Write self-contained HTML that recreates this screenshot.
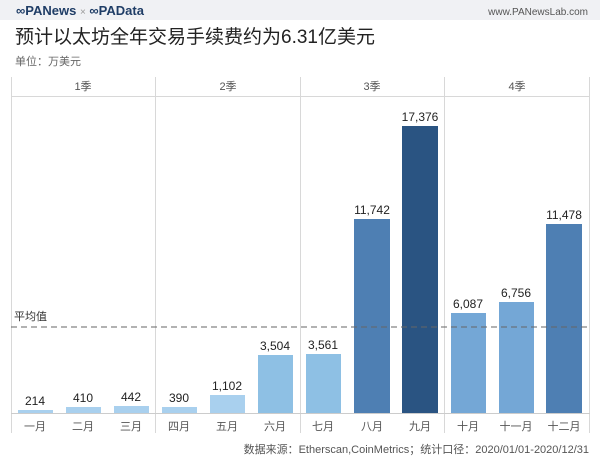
<!DOCTYPE html>
<html><head><meta charset="utf-8"><style>
body{margin:0;width:600px;height:470px;background:#fff;overflow:hidden;font-family:"Liberation Sans","Noto Sans CJK SC",sans-serif;}
</style></head><body>
<svg width="600" height="470" xmlns="http://www.w3.org/2000/svg" font-family="Liberation Sans, Noto Sans CJK SC, sans-serif">
<rect x="0" y="0" width="600" height="20" fill="#f0f1f4"/>
<text x="16" y="15" font-size="13" font-weight="bold" fill="#1f3d66">∞PANews <tspan fill="#999" font-weight="normal" font-size="10">×</tspan> ∞PAData</text>
<text x="588" y="15" font-size="10" fill="#555" text-anchor="end">www.PANewsLab.com</text>
<text x="15" y="43" font-size="19" fill="#222">预计以太坊全年交易手续费约为6.31亿美元</text>
<text x="15" y="65" font-size="11" fill="#666">单位：万美元</text>
<g stroke="#d8d8d8" stroke-width="1">
<line x1="11.5" y1="77" x2="11.5" y2="433"/>
<line x1="155.5" y1="77" x2="155.5" y2="433"/>
<line x1="300.5" y1="77" x2="300.5" y2="433"/>
<line x1="444.5" y1="77" x2="444.5" y2="433"/>
<line x1="589.5" y1="77" x2="589.5" y2="433"/>
<line x1="11" y1="96.5" x2="590" y2="96.5"/>
<line x1="11" y1="413.5" x2="590" y2="413.5" stroke="#ccc"/>
</g>
<g font-size="11" fill="#555" text-anchor="middle">
<text x="83" y="90">1季</text><text x="228" y="90">2季</text><text x="372" y="90">3季</text><text x="517" y="90">4季</text>
</g>
<g>
<rect x="18" y="410" width="35" height="3" fill="#a9d0ee"/>
<rect x="66" y="407" width="35" height="6" fill="#a9d0ee"/>
<rect x="114" y="406" width="35" height="7" fill="#a9d0ee"/>
<rect x="162" y="407" width="35" height="6" fill="#a9d0ee"/>
<rect x="210" y="395" width="35" height="18" fill="#a9d0ee"/>
<rect x="258" y="355" width="35" height="58" fill="#8ec0e4"/>
<rect x="306" y="354" width="35" height="59" fill="#8ec0e4"/>
<rect x="354" y="219" width="36" height="194" fill="#4e7fb3"/>
<rect x="402" y="126" width="36" height="287" fill="#2a5482"/>
<rect x="451" y="313" width="35" height="100" fill="#74a7d6"/>
<rect x="499" y="302" width="35" height="111" fill="#74a7d6"/>
<rect x="546" y="224" width="36" height="189" fill="#4e7fb3"/>
</g>
<line x1="11" y1="327" x2="590" y2="327" stroke="#666" stroke-width="1" stroke-dasharray="6,4"/>
<text x="14" y="320" font-size="11" fill="#333">平均值</text>
<g font-size="12" fill="#222" text-anchor="middle">
<text x="35" y="405">214</text><text x="83" y="402">410</text><text x="131" y="401">442</text>
<text x="179" y="402">390</text><text x="227" y="390">1,102</text><text x="275" y="350">3,504</text>
<text x="323" y="349">3,561</text><text x="372" y="214">11,742</text><text x="420" y="121">17,376</text>
<text x="468" y="308">6,087</text><text x="516" y="297">6,756</text><text x="564" y="219">11,478</text>
</g>
<g font-size="11" fill="#555" text-anchor="middle">
<text x="35" y="430">一月</text><text x="83" y="430">二月</text><text x="131" y="430">三月</text>
<text x="179" y="430">四月</text><text x="227" y="430">五月</text><text x="275" y="430">六月</text>
<text x="323" y="430">七月</text><text x="372" y="430">八月</text><text x="420" y="430">九月</text>
<text x="468" y="430">十月</text><text x="516" y="430">十一月</text><text x="564" y="430">十二月</text>
</g>
<text x="589" y="453" font-size="11" fill="#555" text-anchor="end">数据来源：Etherscan,CoinMetrics；统计口径：2020/01/01-2020/12/31</text>
</svg>
</body></html>
